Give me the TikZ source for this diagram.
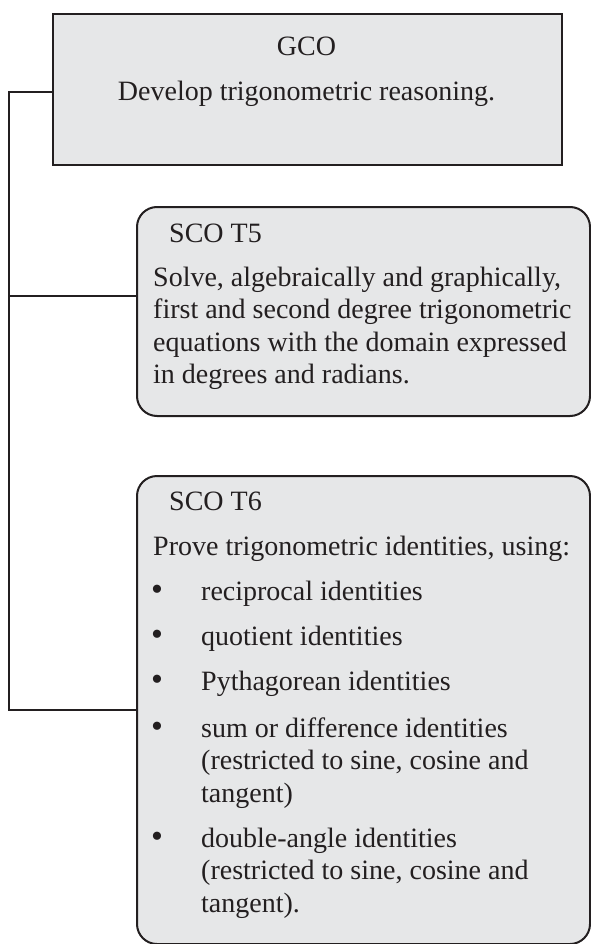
\documentclass[tikz,border=0pt]{standalone}
\usepackage{fontspec}
\setmainfont{Liberation Serif}
\definecolor{boxfill}{HTML}{E6E7E8}
\definecolor{ink}{HTML}{231F20}
\tikzset{
  boxbase/.style={draw=ink, fill=boxfill, line width=2pt, anchor=north west, inner sep=0pt},
  gcobox/.style={boxbase, minimum width=509pt, minimum height=151pt},
  scobox/.style={boxbase, rounded corners=20pt, minimum width=453pt},
  txt/.style={anchor=base west, inner sep=0pt, text=ink, font=\fontsize{28}{32}\selectfont},
  ctr/.style={anchor=base, inner sep=0pt, text=ink, font=\fontsize{28}{32}\selectfont},
  bul/.style={anchor=base, inner sep=0pt, text=ink, font=\fontsize{34}{32}\selectfont},
  link/.style={draw=ink, line width=2pt},
}
\newcommand{\lines}[1]{\parbox[t]{480pt}{\raggedright\fontsize{28}{32.5}\selectfont #1}}
\begin{document}
\begin{tikzpicture}[x=1pt,y=-1pt]
\useasboundingbox (0,0) rectangle (590,944);
% boxes
\node[gcobox] (gco) at (52,13) {};
\node[scobox, minimum height=209pt] (t5) at (136,206) {};
\node[scobox, minimum height=468pt] (t6) at (136,475) {};
% connectors
\coordinate (j1) at (8.5,92);
\coordinate (j2) at (8.5,296);
\coordinate (j3) at (8.5,710);
\draw[link, line join=miter] (j1 -| gco.west) -- (j1) -- (j3) -- (j3 -| t6.west);
\draw[link] (j2) -- (j2 -| t5.west);
% GCO text
\node[ctr] (gcot) at (306.5,56) {GCO};
\node[ctr] (gcob) at (306.5,101) {Develop trigonometric reasoning.};
% T5 text
\node[txt] (t5h) at (169,242) {SCO T5};
\node[txt] (t5b) at (153,286) {\lines{Solve, algebraically and graphically,\\
first and second degree trigonometric\\
equations with the domain expressed\\
in degrees and radians.}};
% T6 text
\node[txt] (t6h) at (169,510) {SCO T6};
\node[txt] (t6b) at (153,555) {Prove trigonometric identities, using:};
\node[bul] (b1) at (157,600) {•};
\node[txt] (i1) at (201,600) {reciprocal identities};
\node[bul] (b2) at (157,645) {•};
\node[txt] (i2) at (201,645) {quotient identities};
\node[bul] (b3) at (157,690) {•};
\node[txt] (i3) at (201,690) {Pythagorean identities};
\node[bul] (b4) at (157,737) {•};
\node[txt] (i4) at (201,737) {\lines{sum or difference identities\\
(restricted to sine, cosine and\\
tangent)}};
\node[bul] (b5) at (157,847) {•};
\node[txt] (i5) at (201,847) {\lines{double-angle identities\\
(restricted to sine, cosine and\\
tangent).}};
\end{tikzpicture}
\end{document}
